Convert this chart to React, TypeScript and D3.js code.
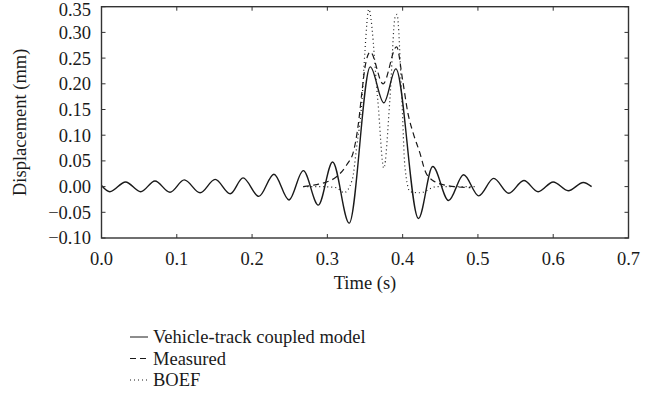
import React from "react";
import * as d3 from "d3";

// Vehicle-track coupled model (extrema)
const coupledTime = [
  0.0, 0.011, 0.032, 0.052, 0.071, 0.091, 0.11, 0.131, 0.151, 0.171, 0.188,
  0.209, 0.229, 0.249, 0.268, 0.288, 0.307, 0.329, 0.357, 0.375, 0.391, 0.421,
  0.44, 0.461, 0.481, 0.501, 0.521, 0.541, 0.561, 0.58, 0.6, 0.62, 0.64, 0.651,
];
const coupledDisp = [
  0.002, -0.01, 0.009, -0.01, 0.011, -0.011, 0.013, -0.012, 0.014, -0.014,
  0.017, -0.019, 0.024, -0.026, 0.031, -0.036, 0.048, -0.071, 0.233, 0.163,
  0.229, -0.062, 0.039, -0.027, 0.023, -0.018, 0.016, -0.013, 0.012, -0.01,
  0.009, -0.008, 0.008, 0.0,
];

// Measured
const measuredTime = [
  0.268, 0.286, 0.299, 0.313, 0.326, 0.335, 0.341, 0.346, 0.35, 0.357, 0.374,
  0.392, 0.4, 0.407, 0.414, 0.423, 0.43, 0.44, 0.459, 0.49,
];
const measuredDisp = [
  0.0, 0.004, 0.009, 0.02, 0.043, 0.07, 0.12, 0.185, 0.232, 0.262, 0.2, 0.272,
  0.207, 0.143, 0.104, 0.065, 0.03, 0.012, 0.002, -0.002,
];

// BOEF
const boefTime = [
  0.268, 0.29, 0.312, 0.322, 0.333, 0.339, 0.346, 0.35, 0.355, 0.367, 0.375,
  0.383, 0.39, 0.3925, 0.399, 0.403, 0.41, 0.423, 0.445, 0.499,
];
const boefDisp = [
  0.0, 0.0, -0.002, -0.012, 0.013, 0.078, 0.168, 0.266, 0.345, 0.168, 0.036,
  0.168, 0.33, 0.335, 0.168, 0.039, -0.01, -0.012, 0.0, 0.0,
];

const xTicks = [0, 0.1, 0.2, 0.3, 0.4, 0.5, 0.6, 0.7];
const yTicks = [-0.1, -0.05, 0, 0.05, 0.1, 0.15, 0.2, 0.25, 0.3, 0.35];

const legendLabels = ["Vehicle-track coupled model", "Measured", "BOEF"];

const font = "'Liberation Serif', 'DejaVu Serif', serif";
const ink = "#1a1a1a";
const fs = 18.5;

export default function App() {
  const left = 101.5;
  const right = 628.5;
  const top = 6.7;
  const bottom = 238;

  const x = d3.scaleLinear().domain([0, 0.7]).range([left, right]);
  const y = d3.scaleLinear().domain([-0.1, 0.35]).range([bottom, top]);

  const line = d3
    .line<[number, number]>()
    .x((d) => x(d[0]))
    .y((d) => y(d[1]))
    .curve(d3.curveMonotoneX);

  const zip = (t: number[], v: number[]) =>
    t.map((tt, i) => [tt, v[i]] as [number, number]);

  const series = [
    { pts: zip(coupledTime, coupledDisp), dash: "none", w: 1.4 },
    { pts: zip(measuredTime, measuredDisp), dash: "6,4", w: 1.2 },
    { pts: zip(boefTime, boefDisp), dash: "1,3", w: 1.2 },
  ];

  const tick = 4;
  const legendY = [337, 358.5, 380];

  return (
    <svg
      width={662}
      height={405}
      style={{ position: "absolute", left: 0, top: 0, background: "#fff" }}
      fontFamily={font}
    >
      {series.map((s, i) => (
        <path
          key={i}
          d={line(s.pts) || ""}
          fill="none"
          stroke={ink}
          strokeWidth={s.w}
          strokeDasharray={s.dash}
        />
      ))}

      {/* frame */}
      <rect
        x={left}
        y={top}
        width={right - left}
        height={bottom - top}
        fill="none"
        stroke="#333"
        strokeWidth={1.4}
      />

      {xTicks.map((t) => (
        <g key={"x" + t}>
          <line x1={x(t)} x2={x(t)} y1={bottom} y2={bottom - tick} stroke="#333" />
          <line x1={x(t)} x2={x(t)} y1={top} y2={top + tick} stroke="#333" />
          <text x={x(t)} y={265} textAnchor="middle" fontSize={fs} fill={ink}>
            {d3.format(".1f")(t)}
          </text>
        </g>
      ))}

      {yTicks.map((t) => (
        <g key={"y" + t}>
          <line x1={left} x2={left + tick} y1={y(t)} y2={y(t)} stroke="#333" />
          <line x1={right} x2={right - tick} y1={y(t)} y2={y(t)} stroke="#333" />
          <text
            x={91}
            y={Math.max(y(t), 10)}
            dy="0.35em"
            textAnchor="end"
            fontSize={fs}
            fill={ink}
          >
            {d3.format(".2f")(t).replace("-", "\u2212")}
          </text>
        </g>
      ))}

      <text
        x={(left + right) / 2}
        y={289}
        textAnchor="middle"
        fontSize={fs}
        fill={ink}
      >
        Time (s)
      </text>
      <text
        transform={`translate(26,${(top + bottom) / 2}) rotate(-90)`}
        textAnchor="middle"
        fontSize={fs}
        fill={ink}
      >
        Displacement (mm)
      </text>

      {legendLabels.map((label, i) => (
        <g key={label}>
          <line
            x1={130}
            x2={148}
            y1={legendY[i]}
            y2={legendY[i]}
            stroke={ink}
            strokeWidth={1}
            strokeDasharray={series[i].dash}
          />
          <text x={153} y={legendY[i]} dy="0.35em" fontSize={fs} fill={ink}>
            {label}
          </text>
        </g>
      ))}
    </svg>
  );
}
